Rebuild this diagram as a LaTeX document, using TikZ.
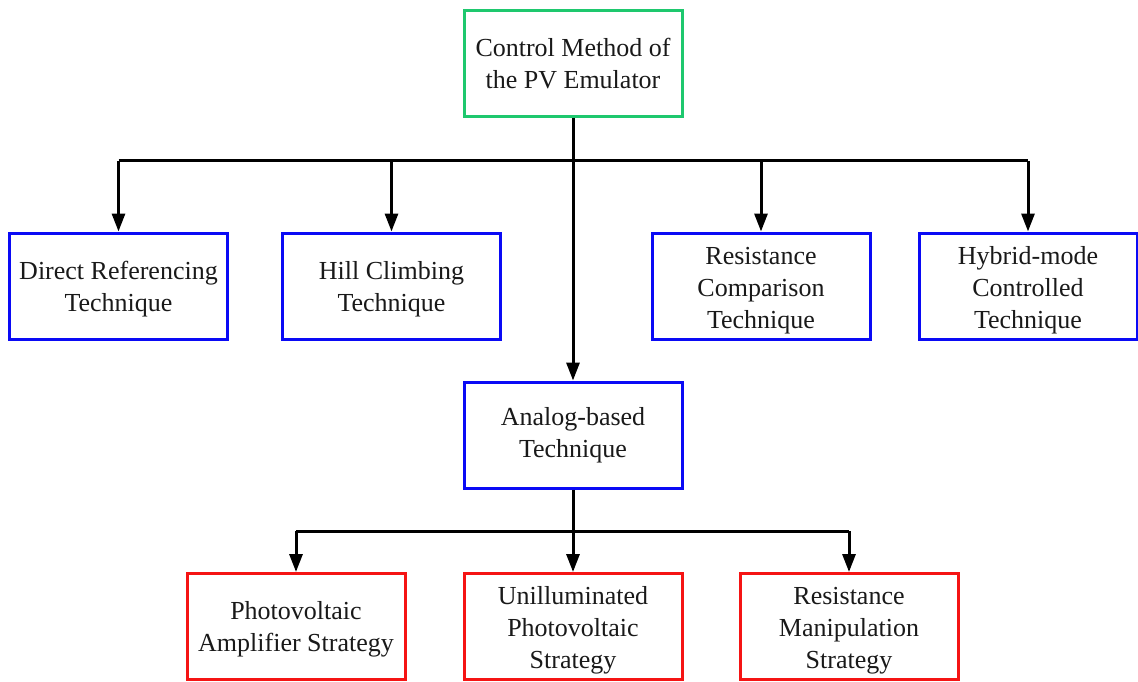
\documentclass[tikz,border=0pt]{standalone}
\usepackage{fontspec}
\setmainfont{Liberation Serif}
\usetikzlibrary{arrows.meta}
\definecolor{boxgreen}{RGB}{30,200,110}
\definecolor{boxblue}{RGB}{10,10,245}
\definecolor{boxred}{RGB}{245,20,20}
\tikzset{
  box/.style={draw, line width=3pt, minimum width=218pt, minimum height=106pt,
    inner sep=2pt, align=center, font=\fontsize{26}{32}\selectfont, text=black!90},
  gbox/.style={box, draw=boxgreen},
  bbox/.style={box, draw=boxblue},
  rbox/.style={box, draw=boxred},
  conn/.style={line width=3pt, black},
  arr/.style={conn, -{Triangle[length=18pt,width=13pt]}}
}
\begin{document}
\begin{tikzpicture}[x=1pt,y=-1pt]
\useasboundingbox (0,0) rectangle (1138,682);
\node[gbox] (top) at (573,63.5) {Control Method of\\the PV Emulator};
\node[bbox] (dr) at (118.5,286) {\rule{0pt}{24pt}Direct Referencing\\Technique};
\node[bbox] (hc) at (391.5,286) {\rule{0pt}{24pt}Hill Climbing\\Technique};
\node[bbox] (rc) at (761,286) {\rule{0pt}{26pt}Resistance\\Comparison\\Technique};
\node[bbox] (hm) at (1028,286) {\rule{0pt}{26pt}Hybrid-mode\\Controlled\\Technique};
\node[bbox] (an) at (573,435) {Analog-based\\Technique};
\node[rbox] (pa) at (296,626.5) {\rule{0pt}{24pt}Photovoltaic\\Amplifier Strategy};
\node[rbox] (up) at (573,626.5) {\rule{0pt}{26pt}Unilluminated\\Photovoltaic\\Strategy};
\node[rbox] (rm) at (849,626.5) {\rule{0pt}{26pt}Resistance\\Manipulation\\Strategy};
\coordinate (j1) at (573,161);
\coordinate (j2) at (573,531);
\draw[arr] (top.south) -- (an.north);
\draw[conn] (dr.north |- j1) -- (hm.north |- j1);
\draw[arr] (dr.north |- j1) -- (dr.north);
\draw[arr] (hc.north |- j1) -- (hc.north);
\draw[arr] (rc.north |- j1) -- (rc.north);
\draw[arr] (hm.north |- j1) -- (hm.north);
\draw[conn] (pa.north |- j2) -- (rm.north |- j2);
\draw[arr] (an.south) -- (up.north);
\draw[arr] (pa.north |- j2) -- (pa.north);
\draw[arr] (rm.north |- j2) -- (rm.north);
\end{tikzpicture}
\end{document}
